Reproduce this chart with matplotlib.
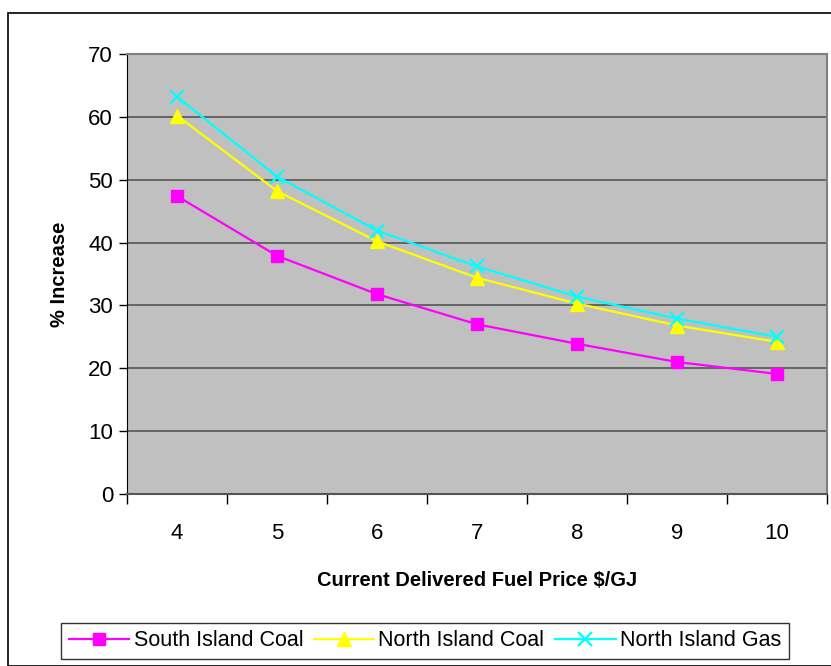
import matplotlib
matplotlib.use("Agg")
import matplotlib.pyplot as plt
from matplotlib.patches import Rectangle

plt.rcParams['font.family'] = ['Liberation Sans', 'DejaVu Sans']

# Fuel price categories ($/GJ) and % increase per supply option
prices = [4, 5, 6, 7, 8, 9, 10]
south_island_coal = [47.4, 37.9, 31.8, 27.0, 23.9, 21.0, 19.1]
north_island_coal = [60.2, 48.2, 40.2, 34.4, 30.3, 26.8, 24.2]
north_island_gas = [63.2, 50.5, 41.9, 36.2, 31.4, 27.9, 25.0]

fig = plt.figure(figsize=(8.31, 6.66), dpi=100)
# outer chart border
fig.patches.append(Rectangle((8 / 831, 0.0), 1.0, 1 - 13 / 666, transform=fig.transFigure,
                             fill=False, edgecolor='black', linewidth=1.2))

ax = fig.add_axes([127 / 831, (666 - 494) / 666, 700 / 831, 440 / 666])
ax.set_facecolor('#C0C0C0')

x = list(range(len(prices)))
ax.plot(x, south_island_coal, color='#FF00FF', lw=1.6, marker='s', ms=8,
        label='South Island Coal', zorder=3)
ax.plot(x, north_island_coal, color='#FFFF00', lw=1.6, marker='^', ms=9.5,
        label='North Island Coal', zorder=3)
ax.plot(x, north_island_gas, color='#00FFFF', lw=1.6, marker='x', ms=9.5, mew=1.6,
        label='North Island Gas', zorder=4)

ax.set_xlim(-0.5, len(prices) - 0.5)
ax.set_ylim(0, 70)
ax.set_yticks(range(0, 71, 10))
ax.set_xticks(x)
ax.set_xticklabels([str(p) for p in prices])
ax.set_xticks([i - 0.5 for i in range(len(prices) + 1)], minor=True)
ax.tick_params(axis='x', which='major', length=0, labelsize=16, pad=21)
ax.tick_params(axis='x', which='minor', length=7, width=1, direction='out')
ax.tick_params(axis='y', length=6, width=1, labelsize=16, pad=4)

ax.grid(axis='y', color='#555555', lw=1.2)
ax.set_axisbelow(True)
for side in ['top', 'right']:
    ax.spines[side].set_color('#808080')
    ax.spines[side].set_linewidth(1.5)
ax.spines['left'].set_color('black')
ax.spines['bottom'].set_color('#555555')
ax.spines['bottom'].set_linewidth(1.5)

ax.set_xlabel('Current Delivered Fuel Price $/GJ', fontsize=14.5, fontweight='bold', labelpad=19)
ax.set_ylabel('% Increase', fontsize=14.5, fontweight='bold', labelpad=14)

leg = fig.legend(loc='center', bbox_to_anchor=(425 / 831, 1 - 641 / 666), ncol=3,
                 fontsize=15.5, frameon=True, fancybox=False, edgecolor='black',
                 handlelength=2.8, handletextpad=0.2, columnspacing=0.5,
                 borderpad=0.35)
leg.get_frame().set_linewidth(1.0)

fig.savefig('out.png', dpi=100)
